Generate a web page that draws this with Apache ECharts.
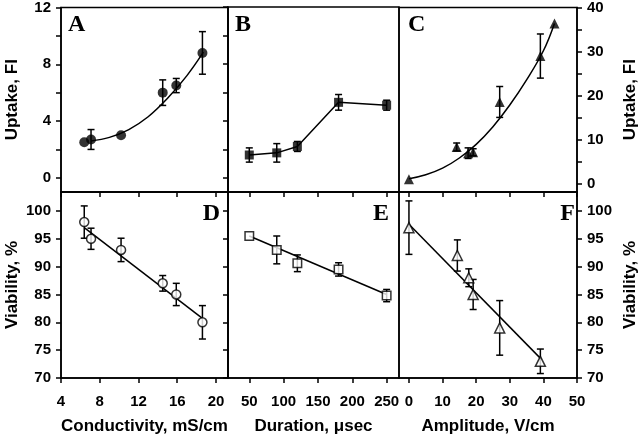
<!DOCTYPE html>
<html>
<head>
<meta charset="utf-8">
<script src="https://cdn.jsdelivr.net/npm/echarts@6/dist/echarts.min.js"></script>
<style>html,body{margin:0;padding:0;background:#fff}#chart{width:640px;height:438px}</style>
</head>
<body>
<div id="chart"></div>
<script>
// ---- Panel A: uptake vs conductivity ----
const condX = [6.4, 7.1, 10.2, 14.5, 15.9, 18.6];
const uptakeA = [2.5, 2.7, 3.0, 6.0, 6.5, 8.8];
const uptakeAErr = [0, 0.7, 0, 0.9, 0.5, 1.5];
const fitAX = [7.1, 9, 11, 13, 15, 17, 18.7];
const fitAY = [2.6, 2.85, 3.4, 4.3, 5.6, 7.2, 8.85];
// ---- Panel B: uptake vs duration ----
const durX = [50, 90, 120, 180, 250];
const uptakeB = [1.6, 1.75, 2.2, 5.3, 5.1];
const uptakeBErr = [0.5, 0.65, 0.35, 0.55, 0.35];
// ---- Panel C: uptake vs amplitude ----
const ampX = [0, 14.2, 17.6, 19.1, 27, 39.1, 43.3];
const uptakeC = [1.1, 8.4, 7.0, 7.2, 18.6, 29.0, 36.4];
const uptakeCErr = [0, 0.9, 1.2, 0.8, 3.5, 5.0, 0];
const fitCX = [0, 5, 10, 15, 20, 25, 30, 35, 40, 43.3];
const fitCY = [1.2, 2.1, 3.6, 5.9, 9.0, 13.0, 17.9, 23.6, 30.2, 36.4];
// ---- Panel D: viability vs conductivity ----
const viabD = [98, 95, 93, 87, 85, 80];
const viabDErr = [2.9, 1.9, 2.1, 1.4, 2.0, 3.0];
const fitDX = [6.4, 18.6];
const fitDY = [97.0, 80.7];
// ---- Panel E: viability vs duration ----
const viabE = [95.5, 93, 90.6, 89.5, 84.8];
const viabEErr = [0, 2.5, 1.5, 1.2, 1.1];
const fitEX = [50, 250];
const fitEY = [95.5, 85.0];
// ---- Panel F: viability vs amplitude ----
const ampFX = [0, 14.4, 17.8, 19.1, 27, 39.1];
const viabF = [97, 92, 88, 85, 79, 73];
const viabFErr = [4.8, 2.8, 1.6, 2.7, 4.9, 2.2];
const fitFX = [0, 39.5];
const fitFY = [97.6, 73.3];
// ---- ticks ----
const condTicks = [4, 8, 12, 16, 20];
const durTicks = [50, 100, 150, 200, 250];
const ampTicks = [0, 10, 20, 30, 40, 50];
const uptakeTicks = [0, 2, 4, 6, 8, 10, 12];
const uptakeLabels = [0, 4, 8, 12];
const uptakeCTicks = [0, 5, 10, 15, 20, 25, 30, 35, 40];
const uptakeCLabels = [0, 10, 20, 30, 40];
const viabTicks = [70, 75, 80, 85, 90, 95, 100];
const panelLetters = ['A', 'B', 'C', 'D', 'E', 'F'];

const chart = echarts.init(document.getElementById('chart'), null, {renderer: 'canvas'});
const BLACK = '#000';
const LW = 1.5;
const labelFont = {color: BLACK, fontFamily: 'Liberation Sans, Arial, sans-serif', fontWeight: 'bold', fontSize: 15};
const nameFont = {color: BLACK, fontFamily: 'Liberation Sans, Arial, sans-serif', fontWeight: 'bold', fontSize: 17};

const gridDefs = [
  {left: 61, top: 7, width: 167, height: 185},
  {left: 228, top: 7, width: 171, height: 185},
  {left: 399, top: 7, width: 178, height: 185},
  {left: 61, top: 192, width: 167, height: 186},
  {left: 228, top: 192, width: 171, height: 186},
  {left: 399, top: 192, width: 178, height: 186}
].map(g => Object.assign({show: true, borderColor: BLACK, borderWidth: LW, backgroundColor: 'transparent'}, g));

function xAx(gi, min, max, ticks, showLabels, name) {
  return {
    type: 'value', gridIndex: gi, min: min, max: max, position: 'bottom',
    splitLine: {show: false},
    axisLine: {show: true, onZero: false, lineStyle: {color: BLACK, width: LW}},
    axisTick: {show: true, inside: false, length: 5, customValues: ticks, lineStyle: {color: BLACK, width: LW}},
    axisLabel: showLabels ? Object.assign({show: true, margin: 16, customValues: ticks}, labelFont) : {show: false},
    name: name || '', nameLocation: 'middle', nameGap: 40, nameTextStyle: nameFont
  };
}
function yAx(gi, min, max, ticks, labels, position, name, showTicks) {
  return {
    type: 'value', gridIndex: gi, min: min, max: max, position: position,
    splitLine: {show: false},
    axisLine: {show: true, onZero: false, lineStyle: {color: BLACK, width: LW}},
    axisTick: {show: showTicks, inside: false, length: 5, customValues: ticks, lineStyle: {color: BLACK, width: LW}},
    axisLabel: labels ? Object.assign({show: true, margin: 10, customValues: labels}, labelFont) : {show: false},
    name: name || '', nameLocation: 'middle', nameGap: position === 'left' ? 40 : 45, nameTextStyle: nameFont
  };
}

const xAxes = [
  xAx(0, 4, 21.24, condTicks, false),
  xAx(1, 19, 268, durTicks, false),
  xAx(2, -2.96, 50, ampTicks, false),
  xAx(3, 4, 21.24, condTicks, true, 'Conductivity, mS/cm'),
  xAx(4, 19, 268, durTicks, true, 'Duration, \u03bcsec'),
  xAx(5, -2.96, 50, ampTicks, true, 'Amplitude, V/cm')
];
const yAxes = [
  yAx(0, -1, 12, uptakeTicks, uptakeLabels, 'left', 'Uptake, FI', true),
  yAx(1, -1, 12, uptakeTicks, null, 'left', '', true),
  yAx(2, -1.8, 40, uptakeCTicks, uptakeCLabels, 'right', 'Uptake, FI', true),
  yAx(3, 70, 103.4, viabTicks, viabTicks, 'left', 'Viability, %', true),
  yAx(4, 70, 103.4, viabTicks, null, 'left', '', true),
  yAx(5, 70, 103.4, viabTicks, viabTicks, 'right', 'Viability, %', true)
];

function errSeries(i, xs, ys, es) {
  const data = [];
  xs.forEach((x, k) => { if (es[k] > 0) data.push([x, ys[k] - es[k], ys[k] + es[k]]); });
  return {
    type: 'custom', xAxisIndex: i, yAxisIndex: i, z: 2, silent: true,
    encode: {x: 0, y: [1, 2]}, data: data,
    renderItem: function (params, api) {
      const lo = api.coord([api.value(0), api.value(1)]);
      const hi = api.coord([api.value(0), api.value(2)]);
      const w = 3.5;
      const st = {stroke: BLACK, lineWidth: LW};
      return {type: 'group', children: [
        {type: 'line', shape: {x1: lo[0], y1: lo[1], x2: hi[0], y2: hi[1]}, style: st},
        {type: 'line', shape: {x1: lo[0] - w, y1: lo[1], x2: lo[0] + w, y2: lo[1]}, style: st},
        {type: 'line', shape: {x1: hi[0] - w, y1: hi[1], x2: hi[0] + w, y2: hi[1]}, style: st}
      ]};
    }
  };
}
function pts(i, xs, ys, symbol, size, open) {
  return {
    type: 'scatter', xAxisIndex: i, yAxisIndex: i, z: 4, symbol: symbol, symbolSize: size,
    data: xs.map((x, k) => [x, ys[k]]),
    itemStyle: open ? {color: '#fff', borderColor: BLACK, borderWidth: LW} : {color: BLACK, borderColor: BLACK, borderWidth: 0}
  };
}
function line(i, xs, ys, smooth) {
  return {
    type: 'line', xAxisIndex: i, yAxisIndex: i, z: 3, showSymbol: false, symbol: 'none', smooth: smooth ? 0.4 : false,
    data: xs.map((x, k) => [x, ys[k]]),
    lineStyle: {color: BLACK, width: LW}
  };
}

const series = [
  line(0, fitAX, fitAY, true), errSeries(0, condX, uptakeA, uptakeAErr), pts(0, condX, uptakeA, 'circle', 10, false),
  line(1, durX, uptakeB, false), errSeries(1, durX, uptakeB, uptakeBErr), pts(1, durX, uptakeB, 'rect', 9, false),
  line(2, fitCX, fitCY, true), errSeries(2, ampX, uptakeC, uptakeCErr), pts(2, ampX, uptakeC, 'triangle', 10, false),
  line(3, fitDX, fitDY, false), errSeries(3, condX, viabD, viabDErr), pts(3, condX, viabD, 'circle', 9, true),
  line(4, fitEX, fitEY, false), errSeries(4, durX, viabE, viabEErr), pts(4, durX, viabE, 'rect', 8.5, true),
  line(5, fitFX, fitFY, false), errSeries(5, ampFX, viabF, viabFErr), pts(5, ampFX, viabF, 'triangle', 10, true)
];

const letterPos = [[68, 25, 'left'], [235, 25, 'left'], [408, 25, 'left'], [220, 214, 'right'], [389, 214, 'right'], [575, 214, 'right']];
const graphics = panelLetters.map((t, k) => ({
  type: 'text', x: letterPos[k][0], y: letterPos[k][1], z: 10,
  style: {text: t, fill: BLACK, font: 'bold 24px "Liberation Serif", "Times New Roman", serif',
    textAlign: letterPos[k][2], textVerticalAlign: 'middle'}
}));

chart.setOption({
  animation: false,
  backgroundColor: '#fff',
  grid: gridDefs,
  xAxis: xAxes,
  yAxis: yAxes,
  series: series,
  graphic: graphics
});
</script>
</body>
</html>
